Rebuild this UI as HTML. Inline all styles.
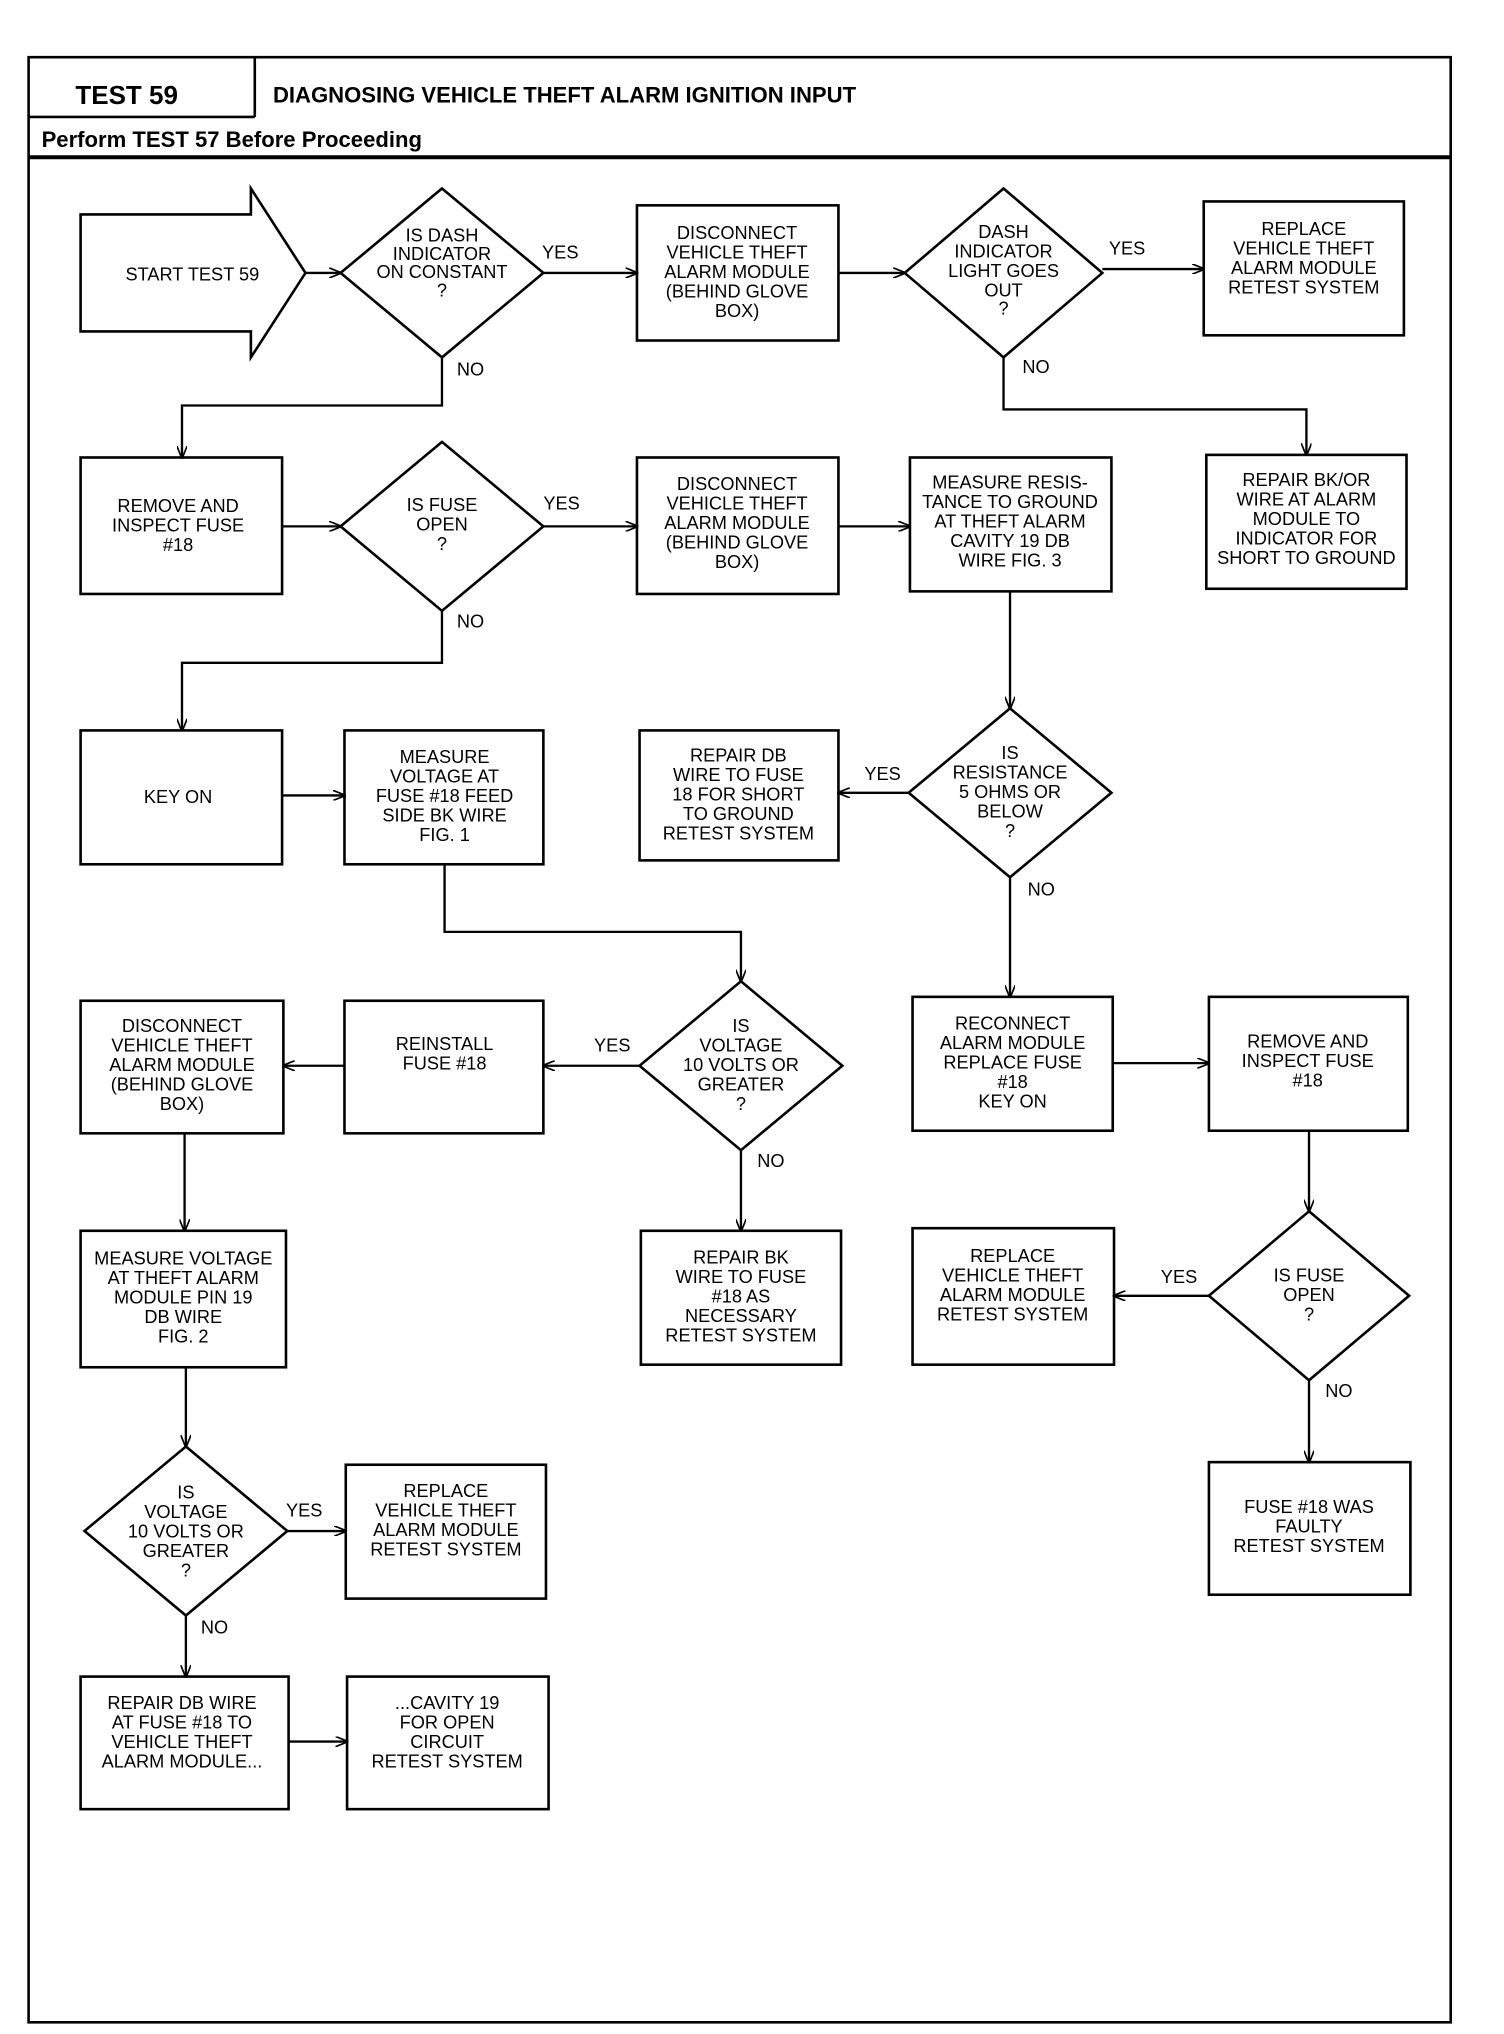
<!DOCTYPE html>
<html><head><meta charset="utf-8"><style>
html,body{margin:0;padding:0;background:#fff;}
svg{display:block;}
text{font-family:"Liberation Sans",sans-serif;font-size:14px;fill:#000;}
.t{text-anchor:middle;font-size:14.5px;transform-box:fill-box;}
.h{font-weight:bold;font-size:20px;}
</style></head><body>
<svg width="1504" height="2034" viewBox="0 0 1157 1565" preserveAspectRatio="none" xmlns="http://www.w3.org/2000/svg">
<defs><marker id="a" markerWidth="10" markerHeight="8" refX="9" refY="4" orient="auto" markerUnits="userSpaceOnUse"><path d="M0,0 L10,4 L0,8" fill="none" stroke="#000" stroke-width="1.3"/></marker></defs>
<g fill="none" stroke="#000" stroke-width="2">
<rect x="22" y="44" width="1094" height="1512"/>
<line x1="196" y1="44" x2="196" y2="90"/>
<line x1="22" y1="90" x2="196" y2="90"/>
<line x1="22" y1="121" x2="1116" y2="121" stroke-width="3"/>
<!-- start arrow -->
<path d="M62,165 L193,165 L193,145 L235,210 L193,275 L193,255 L62,255 Z"/>
<!-- diamonds -->
<path d="M340,145 L418,210 L340,275 L262,210 Z"/>
<path d="M772,145 L848,210 L772,275 L696,210 Z"/>
<path d="M340,340 L418,405 L340,470 L262,405 Z"/>
<path d="M777,545 L855,610 L777,675 L699,610 Z"/>
<path d="M570,755 L648,820 L570,885 L492,820 Z"/>
<path d="M1007,932 L1084,997 L1007,1062 L930,997 Z"/>
<path d="M143,1113 L221,1178 L143,1243 L65,1178 Z"/>
<!-- boxes -->
<rect x="490" y="158" width="155" height="104"/>
<rect x="926" y="155" width="154" height="103"/>
<rect x="62" y="352" width="155" height="105"/>
<rect x="490" y="352" width="155" height="105"/>
<rect x="700" y="352" width="155" height="103"/>
<rect x="928" y="350" width="154" height="103"/>
<rect x="62" y="562" width="155" height="103"/>
<rect x="265" y="562" width="153" height="103"/>
<rect x="492" y="562" width="153" height="100"/>
<rect x="62" y="770" width="156" height="102"/>
<rect x="265" y="770" width="153" height="102"/>
<rect x="702" y="767" width="154" height="103"/>
<rect x="930" y="767" width="153" height="103"/>
<rect x="493" y="947" width="154" height="103"/>
<rect x="62" y="947" width="158" height="105"/>
<rect x="702" y="945" width="155" height="105"/>
<rect x="930" y="1125" width="155" height="102"/>
<rect x="266" y="1127" width="154" height="103"/>
<rect x="62" y="1290" width="160" height="102"/>
<rect x="267" y="1290" width="155" height="102"/>
</g>
<g fill="none" stroke="#000" stroke-width="1.8" marker-end="url(#a)">
<line x1="235" y1="210" x2="262" y2="210"/>
<line x1="418" y1="210" x2="490" y2="210"/>
<line x1="645" y1="210" x2="696" y2="210"/>
<line x1="848" y1="207" x2="926" y2="207"/>
<polyline points="340,275 340,312 140,312 140,352"/>
<polyline points="772,275 772,315 1005,315 1005,350"/>
<line x1="217" y1="405" x2="262" y2="405"/>
<line x1="418" y1="405" x2="490" y2="405"/>
<line x1="645" y1="405" x2="700" y2="405"/>
<polyline points="340,470 340,510 140,510 140,562"/>
<line x1="777" y1="455" x2="777" y2="545"/>
<line x1="217" y1="612" x2="265" y2="612"/>
<line x1="699" y1="610" x2="645" y2="610"/>
<line x1="777" y1="675" x2="777" y2="767"/>
<polyline points="342,665 342,717 570,717 570,755"/>
<line x1="492" y1="820" x2="418" y2="820"/>
<line x1="265" y1="820" x2="218" y2="820"/>
<line x1="856" y1="818" x2="930" y2="818"/>
<line x1="570" y1="885" x2="570" y2="947"/>
<line x1="142" y1="872" x2="142" y2="947"/>
<line x1="1007" y1="870" x2="1007" y2="932"/>
<line x1="930" y1="997" x2="857" y2="997"/>
<line x1="1007" y1="1062" x2="1007" y2="1125"/>
<line x1="143" y1="1052" x2="143" y2="1113"/>
<line x1="221" y1="1178" x2="266" y2="1178"/>
<line x1="143" y1="1243" x2="143" y2="1290"/>
<line x1="222" y1="1340" x2="267" y2="1340"/>
</g>
<text x="58" y="80" class="h">TEST 59</text>
<text x="210" y="79" style="font-weight:bold;font-size:17px">DIAGNOSING VEHICLE THEFT ALARM IGNITION INPUT</text>
<text x="32" y="113" style="font-weight:bold;font-size:17px">Perform TEST 57 Before Proceeding</text>
<g class="t" text-anchor="middle">
<text x="148" y="216">START TEST 59</text>
<text x="340" y="186">IS DASH</text><text x="340" y="200">INDICATOR</text><text x="340" y="214">ON CONSTANT</text><text x="340" y="228">?</text>
<text x="431" y="199">YES</text><text x="362" y="289">NO</text>
<text x="567" y="184">DISCONNECT</text><text x="567" y="199">VEHICLE THEFT</text><text x="567" y="214">ALARM MODULE</text><text x="567" y="229">(BEHIND GLOVE</text><text x="567" y="244">BOX)</text>
<text x="772" y="183">DASH</text><text x="772" y="198">INDICATOR</text><text x="772" y="213">LIGHT GOES</text><text x="772" y="228">OUT</text><text x="772" y="242">?</text>
<text x="867" y="196">YES</text><text x="797" y="287">NO</text>
<text x="1003" y="181">REPLACE</text><text x="1003" y="196">VEHICLE THEFT</text><text x="1003" y="211">ALARM MODULE</text><text x="1003" y="226">RETEST SYSTEM</text>
<text x="137" y="394">REMOVE AND</text><text x="137" y="409">INSPECT FUSE</text><text x="137" y="424">#18</text>
<text x="340" y="393">IS FUSE</text><text x="340" y="408">OPEN</text><text x="340" y="423">?</text>
<text x="432" y="392">YES</text><text x="362" y="483">NO</text>
<text x="567" y="377">DISCONNECT</text><text x="567" y="392">VEHICLE THEFT</text><text x="567" y="407">ALARM MODULE</text><text x="567" y="422">(BEHIND GLOVE</text><text x="567" y="437">BOX)</text>
<text x="777" y="376">MEASURE RESIS-</text><text x="777" y="391">TANCE TO GROUND</text><text x="777" y="406">AT THEFT ALARM</text><text x="777" y="421">CAVITY 19 DB</text><text x="777" y="436">WIRE FIG. 3</text>
<text x="1005" y="374">REPAIR BK/OR</text><text x="1005" y="389">WIRE AT ALARM</text><text x="1005" y="404">MODULE TO</text><text x="1005" y="419">INDICATOR FOR</text><text x="1005" y="434">SHORT TO GROUND</text>
<text x="137" y="618">KEY ON</text>
<text x="342" y="587">MEASURE</text><text x="342" y="602">VOLTAGE AT</text><text x="342" y="617">FUSE #18 FEED</text><text x="342" y="632">SIDE BK WIRE</text><text x="342" y="647">FIG. 1</text>
<text x="568" y="586">REPAIR DB</text><text x="568" y="601">WIRE TO FUSE</text><text x="568" y="616">18 FOR SHORT</text><text x="568" y="631">TO GROUND</text><text x="568" y="646">RETEST SYSTEM</text>
<text x="777" y="584">IS</text><text x="777" y="599">RESISTANCE</text><text x="777" y="614">5 OHMS OR</text><text x="777" y="629">BELOW</text><text x="777" y="644">?</text>
<text x="679" y="600">YES</text><text x="801" y="689">NO</text>
<text x="140" y="794">DISCONNECT</text><text x="140" y="809">VEHICLE THEFT</text><text x="140" y="824">ALARM MODULE</text><text x="140" y="839">(BEHIND GLOVE</text><text x="140" y="854">BOX)</text>
<text x="342" y="808">REINSTALL</text><text x="342" y="823">FUSE #18</text>
<text x="471" y="809">YES</text>
<text x="570" y="794">IS</text><text x="570" y="809">VOLTAGE</text><text x="570" y="824">10 VOLTS OR</text><text x="570" y="839">GREATER</text><text x="570" y="854">?</text>
<text x="593" y="898">NO</text>
<text x="779" y="792">RECONNECT</text><text x="779" y="807">ALARM MODULE</text><text x="779" y="822">REPLACE FUSE</text><text x="779" y="837">#18</text><text x="779" y="852">KEY ON</text>
<text x="1006" y="806">REMOVE AND</text><text x="1006" y="821">INSPECT FUSE</text><text x="1006" y="836">#18</text>
<text x="570" y="972">REPAIR BK</text><text x="570" y="987">WIRE TO FUSE</text><text x="570" y="1002">#18 AS</text><text x="570" y="1017">NECESSARY</text><text x="570" y="1032">RETEST SYSTEM</text>
<text x="141" y="973">MEASURE VOLTAGE</text><text x="141" y="988">AT THEFT ALARM</text><text x="141" y="1003">MODULE PIN 19</text><text x="141" y="1018">DB WIRE</text><text x="141" y="1033">FIG. 2</text>
<text x="779" y="971">REPLACE</text><text x="779" y="986">VEHICLE THEFT</text><text x="779" y="1001">ALARM MODULE</text><text x="779" y="1016">RETEST SYSTEM</text>
<text x="907" y="987">YES</text>
<text x="1007" y="986">IS FUSE</text><text x="1007" y="1001">OPEN</text><text x="1007" y="1016">?</text>
<text x="1030" y="1075">NO</text>
<text x="1007" y="1164">FUSE #18 WAS</text><text x="1007" y="1179">FAULTY</text><text x="1007" y="1194">RETEST SYSTEM</text>
<text x="143" y="1153">IS</text><text x="143" y="1168">VOLTAGE</text><text x="143" y="1183">10 VOLTS OR</text><text x="143" y="1198">GREATER</text><text x="143" y="1213">?</text>
<text x="234" y="1167">YES</text><text x="165" y="1257">NO</text>
<text x="343" y="1152">REPLACE</text><text x="343" y="1167">VEHICLE THEFT</text><text x="343" y="1182">ALARM MODULE</text><text x="343" y="1197">RETEST SYSTEM</text>
<text x="140" y="1315">REPAIR DB WIRE</text><text x="140" y="1330">AT FUSE #18 TO</text><text x="140" y="1345">VEHICLE THEFT</text><text x="140" y="1360">ALARM MODULE...</text>
<text x="344" y="1315">...CAVITY 19</text><text x="344" y="1330">FOR OPEN</text><text x="344" y="1345">CIRCUIT</text><text x="344" y="1360">RETEST SYSTEM</text>
</g>
</svg>
</body></html>
